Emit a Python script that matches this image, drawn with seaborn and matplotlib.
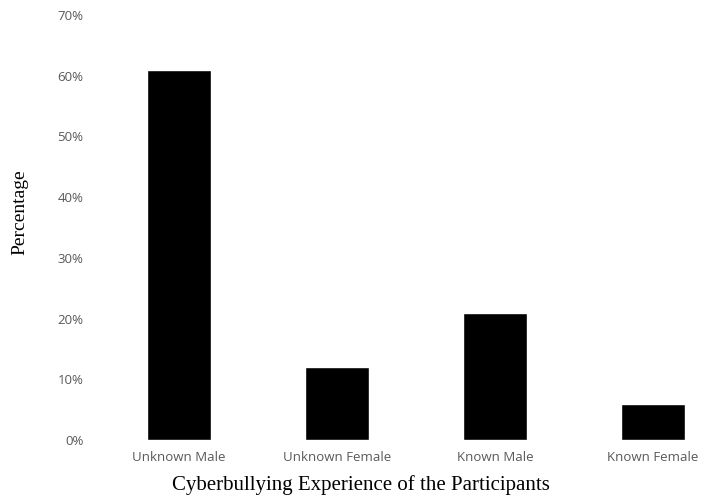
# ==========================================
# CYBERBULLYING EXPERIENCE BAR CHART
# ==========================================

import matplotlib
matplotlib.use("Agg")

import pandas as pd
import matplotlib.pyplot as plt
import seaborn as sns
from matplotlib.ticker import PercentFormatter

# ==========================================
# DATA
# ==========================================

categories = [
    "Unknown Male",
    "Unknown Female",
    "Known Male",
    "Known Female"
]

percentages = [61, 12, 21, 6]

y_ticks = [0, 10, 20, 30, 40, 50, 60, 70]

df = pd.DataFrame(
    {
        "Experience": categories,
        "Percentage": percentages
    }
)

# ==========================================
# PLOT
# ==========================================

sns.set_style("white")

fig = plt.figure(figsize=(7.05, 4.97), dpi=100)

# axes placed in pixel terms: x 100..705, y 15..440 (from top)
ax = fig.add_axes([100 / 705, 57 / 497, 605 / 705, 425 / 497])

sns.barplot(
    data=df,
    x="Experience",
    y="Percentage",
    color="black",
    saturation=1,
    width=0.405,
    ax=ax
)

ax.set_xlim(-0.5, -0.5 + 605 / 158)
ax.set_ylim(0, 70)
ax.set_yticks(y_ticks)
ax.yaxis.set_major_formatter(PercentFormatter(decimals=0))

for side in ["top", "right", "bottom", "left"]:
    ax.spines[side].set_visible(False)

ax.tick_params(
    axis="y",
    length=0,
    pad=12,
    labelsize=9.5,
    labelcolor="#595959"
)
ax.tick_params(
    axis="x",
    length=0,
    pad=8,
    labelsize=9.5,
    labelcolor="#595959"
)

for lab in ax.get_xticklabels() + ax.get_yticklabels():
    lab.set_family(["Open Sans", "DejaVu Sans"])

ax.set_xlabel(
    "Cyberbullying Experience of the Participants",
    family="Liberation Serif",
    fontsize=15,
    color="black"
)
ax.set_ylabel(
    "Percentage",
    family="Liberation Serif",
    fontsize=14,
    color="black"
)

ax.xaxis.set_label_coords(0.431, -0.083)
ax.yaxis.set_label_coords(-0.119, 0.536)

plt.savefig("out.png", dpi=100)
